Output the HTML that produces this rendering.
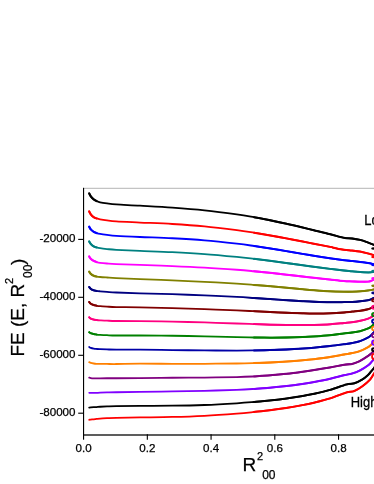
<!DOCTYPE html>
<html><head><meta charset="utf-8"><title>chart</title>
<style>
html,body{margin:0;padding:0;background:#fff;}
body{width:374px;height:484px;overflow:hidden;position:relative;font-family:"Liberation Sans",sans-serif;}
</style></head><body>
<svg width="374" height="484" viewBox="0 0 374 484" style="display:block;position:absolute;left:0;top:0;will-change:transform">
<rect x="0" y="0" width="374" height="484" fill="#ffffff"/>
<line x1="83.5" y1="188.3" x2="374" y2="188.3" stroke="#b4b4b4" stroke-width="1"/>
<g fill="none" stroke-linecap="round" stroke-linejoin="round" stroke-width="1.8">
<path d="M89.20,193.40 C89.47,193.89 90.05,195.35 90.80,196.35 C91.55,197.35 92.73,198.61 93.70,199.39 C94.67,200.17 95.53,200.56 96.60,201.04 C97.67,201.52 98.37,201.90 100.10,202.29 C101.83,202.68 104.30,203.04 107.00,203.39 C109.70,203.74 110.80,204.01 116.30,204.39 C121.80,204.77 130.67,205.14 140.00,205.69 C149.33,206.24 161.55,206.88 172.30,207.66 C183.05,208.45 193.75,209.27 204.50,210.39 C215.25,211.52 228.55,213.27 236.80,214.40 C245.05,215.53 248.45,216.22 254.00,217.19 C259.55,218.17 264.72,219.16 270.10,220.25 C275.48,221.34 280.92,222.51 286.30,223.72 C291.68,224.92 297.78,226.37 302.40,227.47 C307.02,228.56 309.38,229.16 314.00,230.28 C318.62,231.39 325.70,233.04 330.10,234.17 C334.50,235.29 337.70,236.33 340.40,237.00 C343.10,237.67 344.35,237.95 346.30,238.20 C348.25,238.45 349.80,238.22 352.10,238.50 C354.40,238.78 357.42,239.22 360.10,239.90 C362.78,240.58 365.88,241.77 368.20,242.60 C370.52,243.43 372.53,244.28 374.00,244.90 C375.47,245.52 376.50,246.07 377.00,246.30" stroke="#000000"/>
<path d="M89.20,193.40 C89.47,193.89 90.05,195.35 90.80,196.35 C91.55,197.35 92.73,198.61 93.70,199.39 C94.67,200.17 96.12,200.76 96.60,201.04" stroke="#000000" stroke-width="2.15"/>
<path d="M254.00,217.19 C256.68,217.70 264.72,219.16 270.10,220.25 C275.48,221.34 280.92,222.51 286.30,223.72 C291.68,224.92 297.78,226.37 302.40,227.47 C307.02,228.56 309.38,229.16 314.00,230.28 C318.62,231.39 325.70,233.04 330.10,234.17 C334.50,235.29 337.70,236.33 340.40,237.00 C343.10,237.67 344.35,237.95 346.30,238.20 C348.25,238.45 349.80,238.22 352.10,238.50 C354.40,238.78 357.42,239.22 360.10,239.90 C362.78,240.58 365.88,241.77 368.20,242.60 C370.52,243.43 372.53,244.28 374.00,244.90 C375.47,245.52 376.50,246.07 377.00,246.30" stroke="#000000" stroke-width="2.0"/>
<ellipse cx="374.0" cy="248.5" rx="1.95" ry="0.35" stroke="#000000"/>
<path d="M89.20,211.40 C89.47,211.89 90.05,213.41 90.80,214.37 C91.55,215.33 92.73,216.48 93.70,217.15 C94.67,217.83 95.53,218.05 96.60,218.42 C97.67,218.79 98.37,219.04 100.10,219.38 C101.83,219.72 104.30,220.11 107.00,220.45 C109.70,220.79 110.80,221.07 116.30,221.41 C121.80,221.76 130.67,222.11 140.00,222.54 C149.33,222.97 161.55,223.36 172.30,224.00 C183.05,224.64 193.75,225.36 204.50,226.38 C215.25,227.40 228.55,229.08 236.80,230.13 C245.05,231.19 248.45,231.82 254.00,232.70 C259.55,233.58 264.72,234.46 270.10,235.41 C275.48,236.36 280.92,237.37 286.30,238.38 C291.68,239.39 297.78,240.59 302.40,241.49 C307.02,242.38 309.38,242.86 314.00,243.76 C318.62,244.66 326.77,246.22 330.10,246.89 C333.43,247.56 332.28,247.42 334.00,247.80 C335.72,248.18 338.35,248.82 340.40,249.20 C342.45,249.58 344.35,249.87 346.30,250.10 C348.25,250.33 349.80,250.35 352.10,250.60 C354.40,250.85 357.42,251.12 360.10,251.60 C362.78,252.08 365.88,252.90 368.20,253.50 C370.52,254.10 372.53,254.77 374.00,255.20 C375.47,255.63 376.50,255.95 377.00,256.10" stroke="#ff0000"/>
<path d="M89.20,211.40 C89.47,211.89 90.05,213.41 90.80,214.37 C91.55,215.33 92.73,216.48 93.70,217.15 C94.67,217.83 96.12,218.21 96.60,218.42" stroke="#ff0000" stroke-width="2.15"/>
<path d="M254.00,232.70 C256.68,233.15 264.72,234.46 270.10,235.41 C275.48,236.36 280.92,237.37 286.30,238.38 C291.68,239.39 297.78,240.59 302.40,241.49 C307.02,242.38 309.38,242.86 314.00,243.76 C318.62,244.66 326.77,246.22 330.10,246.89 C333.43,247.56 332.28,247.42 334.00,247.80 C335.72,248.18 338.35,248.82 340.40,249.20 C342.45,249.58 344.35,249.87 346.30,250.10 C348.25,250.33 349.80,250.35 352.10,250.60 C354.40,250.85 357.42,251.12 360.10,251.60 C362.78,252.08 365.88,252.90 368.20,253.50 C370.52,254.10 372.53,254.77 374.00,255.20 C375.47,255.63 376.50,255.95 377.00,256.10" stroke="#ff0000" stroke-width="2.0"/>
<ellipse cx="374.0" cy="257.0" rx="1.95" ry="0.35" stroke="#ff0000"/>
<path d="M89.20,226.70 C89.47,227.15 90.05,228.54 90.80,229.39 C91.55,230.24 92.73,231.19 93.70,231.81 C94.67,232.43 95.53,232.74 96.60,233.10 C97.67,233.46 98.37,233.65 100.10,233.96 C101.83,234.26 104.30,234.59 107.00,234.91 C109.70,235.23 110.80,235.52 116.30,235.86 C121.80,236.21 130.67,236.60 140.00,236.99 C149.33,237.39 161.55,237.70 172.30,238.25 C183.05,238.80 193.75,239.39 204.50,240.28 C215.25,241.18 228.55,242.68 236.80,243.63 C245.05,244.58 248.45,245.16 254.00,245.97 C259.55,246.77 264.72,247.58 270.10,248.44 C275.48,249.30 280.92,250.22 286.30,251.13 C291.68,252.03 297.78,253.09 302.40,253.87 C307.02,254.65 309.38,255.07 314.00,255.81 C318.62,256.55 325.10,257.59 330.10,258.32 C335.10,259.05 340.33,259.75 344.00,260.20 C347.67,260.65 349.42,260.72 352.10,261.00 C354.78,261.28 357.42,261.55 360.10,261.90 C362.78,262.25 365.88,262.70 368.20,263.10 C370.52,263.50 372.53,264.00 374.00,264.30 C375.47,264.60 376.50,264.80 377.00,264.90" stroke="#0000ff"/>
<path d="M89.20,226.70 C89.47,227.15 90.05,228.54 90.80,229.39 C91.55,230.24 92.73,231.19 93.70,231.81 C94.67,232.43 96.12,232.88 96.60,233.10" stroke="#0000ff" stroke-width="2.15"/>
<path d="M254.00,245.97 C256.68,246.38 264.72,247.58 270.10,248.44 C275.48,249.30 280.92,250.22 286.30,251.13 C291.68,252.03 297.78,253.09 302.40,253.87 C307.02,254.65 309.38,255.07 314.00,255.81 C318.62,256.55 325.10,257.59 330.10,258.32 C335.10,259.05 340.33,259.75 344.00,260.20 C347.67,260.65 349.42,260.72 352.10,261.00 C354.78,261.28 357.42,261.55 360.10,261.90 C362.78,262.25 365.88,262.70 368.20,263.10 C370.52,263.50 372.53,264.00 374.00,264.30 C375.47,264.60 376.50,264.80 377.00,264.90" stroke="#0000ff" stroke-width="2.0"/>
<ellipse cx="374.0" cy="265.0" rx="1.95" ry="0.30" stroke="#0000ff"/>
<path d="M89.20,241.50 C89.47,241.92 90.05,243.20 90.80,244.01 C91.55,244.82 92.73,245.78 93.70,246.36 C94.67,246.94 95.53,247.15 96.60,247.47 C97.67,247.78 98.37,247.96 100.10,248.23 C101.83,248.49 104.30,248.78 107.00,249.06 C109.70,249.33 110.80,249.57 116.30,249.88 C121.80,250.19 130.67,250.53 140.00,250.91 C149.33,251.28 161.55,251.63 172.30,252.15 C183.05,252.67 193.75,253.24 204.50,254.03 C215.25,254.82 228.55,256.11 236.80,256.91 C245.05,257.71 248.45,258.18 254.00,258.84 C259.55,259.50 264.72,260.16 270.10,260.86 C275.48,261.55 280.92,262.29 286.30,263.02 C291.68,263.75 297.78,264.60 302.40,265.23 C307.02,265.86 309.38,266.20 314.00,266.81 C318.62,267.41 325.10,268.26 330.10,268.88 C335.10,269.49 340.33,270.10 344.00,270.50 C347.67,270.90 349.42,271.03 352.10,271.30 C354.78,271.57 357.42,271.92 360.10,272.10 C362.78,272.28 366.32,272.38 368.20,272.40 C370.08,272.42 370.43,272.28 371.40,272.20 C372.37,272.12 373.07,272.00 374.00,271.90 C374.93,271.80 376.50,271.65 377.00,271.60" stroke="#008080"/>
<path d="M89.20,241.50 C89.47,241.92 90.05,243.20 90.80,244.01 C91.55,244.82 92.73,245.78 93.70,246.36 C94.67,246.94 96.12,247.28 96.60,247.47" stroke="#008080" stroke-width="2.15"/>
<path d="M254.00,258.84 C256.68,259.18 264.72,260.16 270.10,260.86 C275.48,261.55 280.92,262.29 286.30,263.02 C291.68,263.75 297.78,264.60 302.40,265.23 C307.02,265.86 309.38,266.20 314.00,266.81 C318.62,267.41 325.10,268.26 330.10,268.88 C335.10,269.49 340.33,270.10 344.00,270.50 C347.67,270.90 349.42,271.03 352.10,271.30 C354.78,271.57 357.42,271.92 360.10,272.10 C362.78,272.28 366.32,272.38 368.20,272.40 C370.08,272.42 370.43,272.28 371.40,272.20 C372.37,272.12 373.07,272.00 374.00,271.90 C374.93,271.80 376.50,271.65 377.00,271.60" stroke="#008080" stroke-width="2.0"/>
<ellipse cx="374.0" cy="271.0" rx="1.95" ry="0.30" stroke="#008080"/>
<path d="M89.20,256.50 C89.47,256.89 90.05,258.09 90.80,258.82 C91.55,259.56 92.73,260.37 93.70,260.91 C94.67,261.44 95.53,261.72 96.60,262.03 C97.67,262.35 98.37,262.55 100.10,262.80 C101.83,263.04 104.30,263.29 107.00,263.51 C109.70,263.73 110.80,263.90 116.30,264.13 C121.80,264.36 130.67,264.59 140.00,264.91 C149.33,265.22 161.55,265.60 172.30,266.05 C183.05,266.49 193.75,266.96 204.50,267.57 C215.25,268.19 228.55,269.14 236.80,269.76 C245.05,270.37 248.45,270.73 254.00,271.25 C259.55,271.76 264.72,272.29 270.10,272.85 C275.48,273.42 280.92,274.03 286.30,274.64 C291.68,275.24 297.78,275.97 302.40,276.51 C307.02,277.04 309.38,277.34 314.00,277.86 C318.62,278.37 325.10,279.07 330.10,279.61 C335.10,280.16 340.33,280.80 344.00,281.10 C347.67,281.40 349.42,281.30 352.10,281.40 C354.78,281.50 357.42,281.64 360.10,281.68 C362.78,281.71 366.18,281.84 368.20,281.63 C370.22,281.42 371.07,280.82 372.20,280.40 C373.33,279.98 374.53,279.32 375.00,279.10" stroke="#ff00ff"/>
<path d="M89.20,256.50 C89.47,256.89 90.05,258.09 90.80,258.82 C91.55,259.56 92.73,260.37 93.70,260.91 C94.67,261.44 96.12,261.84 96.60,262.03" stroke="#ff00ff" stroke-width="2.15"/>
<path d="M254.00,271.25 C256.68,271.52 264.72,272.29 270.10,272.85 C275.48,273.42 280.92,274.03 286.30,274.64 C291.68,275.24 297.78,275.97 302.40,276.51 C307.02,277.04 309.38,277.34 314.00,277.86 C318.62,278.37 325.10,279.07 330.10,279.61 C335.10,280.16 340.33,280.80 344.00,281.10 C347.67,281.40 349.42,281.30 352.10,281.40 C354.78,281.50 357.42,281.64 360.10,281.68 C362.78,281.71 366.18,281.84 368.20,281.63 C370.22,281.42 371.07,280.82 372.20,280.40 C373.33,279.98 374.53,279.32 375.00,279.10" stroke="#ff00ff" stroke-width="2.0"/>
<ellipse cx="374.0" cy="278.3" rx="1.95" ry="0.35" stroke="#ff00ff"/>
<path d="M89.20,271.70 C89.47,272.06 90.05,273.17 90.80,273.85 C91.55,274.54 92.73,275.34 93.70,275.79 C94.67,276.24 95.53,276.34 96.60,276.54 C97.67,276.75 98.37,276.86 100.10,277.01 C101.83,277.17 104.30,277.32 107.00,277.49 C109.70,277.66 110.80,277.80 116.30,278.06 C121.80,278.32 130.67,278.65 140.00,279.04 C149.33,279.43 161.55,279.93 172.30,280.39 C183.05,280.86 193.75,281.28 204.50,281.82 C215.25,282.36 228.55,283.13 236.80,283.64 C245.05,284.15 248.45,284.45 254.00,284.88 C259.55,285.31 264.72,285.75 270.10,286.22 C275.48,286.69 280.92,287.20 286.30,287.70 C291.68,288.20 297.78,288.78 302.40,289.20 C307.02,289.62 309.38,289.85 314.00,290.20 C318.62,290.55 325.10,291.04 330.10,291.29 C335.10,291.54 340.33,291.63 344.00,291.70 C347.67,291.77 349.42,291.76 352.10,291.70 C354.78,291.64 357.42,291.53 360.10,291.33 C362.78,291.12 365.88,290.80 368.20,290.48 C370.52,290.16 372.53,289.73 374.00,289.40 C375.47,289.07 376.50,288.65 377.00,288.50" stroke="#808000"/>
<path d="M89.20,271.70 C89.47,272.06 90.05,273.17 90.80,273.85 C91.55,274.54 92.73,275.34 93.70,275.79 C94.67,276.24 96.12,276.42 96.60,276.54" stroke="#808000" stroke-width="2.12"/>
<path d="M254.00,284.88 C256.68,285.10 264.72,285.75 270.10,286.22 C275.48,286.69 280.92,287.20 286.30,287.70 C291.68,288.20 297.78,288.78 302.40,289.20 C307.02,289.62 309.38,289.85 314.00,290.20 C318.62,290.55 325.10,291.04 330.10,291.29 C335.10,291.54 340.33,291.63 344.00,291.70 C347.67,291.77 349.42,291.76 352.10,291.70 C354.78,291.64 357.42,291.53 360.10,291.33 C362.78,291.12 365.88,290.80 368.20,290.48 C370.52,290.16 372.53,289.73 374.00,289.40 C375.47,289.07 376.50,288.65 377.00,288.50" stroke="#808000" stroke-width="2.0"/>
<ellipse cx="374.0" cy="285.8" rx="1.95" ry="0.45" stroke="#808000"/>
<path d="M89.20,287.00 C89.47,287.31 90.05,288.32 90.80,288.87 C91.55,289.43 92.73,290.01 93.70,290.35 C94.67,290.69 95.53,290.76 96.60,290.92 C97.67,291.08 98.37,291.14 100.10,291.30 C101.83,291.45 104.30,291.65 107.00,291.85 C109.70,292.04 110.80,292.23 116.30,292.48 C121.80,292.72 130.67,293.01 140.00,293.30 C149.33,293.59 161.55,293.88 172.30,294.22 C183.05,294.57 193.75,294.90 204.50,295.36 C215.25,295.81 228.55,296.51 236.80,296.96 C245.05,297.40 248.45,297.66 254.00,298.01 C259.55,298.36 264.72,298.72 270.10,299.08 C275.48,299.44 280.92,299.82 286.30,300.17 C291.68,300.52 297.78,300.90 302.40,301.16 C307.02,301.42 309.38,301.56 314.00,301.74 C318.62,301.91 325.10,302.14 330.10,302.20 C335.10,302.26 340.33,302.15 344.00,302.10 C347.67,302.05 349.42,302.04 352.10,301.90 C354.78,301.76 357.42,301.54 360.10,301.25 C362.78,300.96 366.32,300.52 368.20,300.16 C370.08,299.79 370.43,299.45 371.40,299.08 C372.37,298.70 373.07,298.40 374.00,297.90 C374.93,297.40 376.50,296.40 377.00,296.10" stroke="#000080"/>
<path d="M89.20,287.00 C89.47,287.31 90.05,288.32 90.80,288.87 C91.55,289.43 92.73,290.01 93.70,290.35 C94.67,290.69 96.12,290.82 96.60,290.92" stroke="#000080" stroke-width="2.08"/>
<path d="M254.00,298.01 C256.68,298.19 264.72,298.72 270.10,299.08 C275.48,299.44 280.92,299.82 286.30,300.17 C291.68,300.52 297.78,300.90 302.40,301.16 C307.02,301.42 309.38,301.56 314.00,301.74 C318.62,301.91 325.10,302.14 330.10,302.20 C335.10,302.26 340.33,302.15 344.00,302.10 C347.67,302.05 349.42,302.04 352.10,301.90 C354.78,301.76 357.42,301.54 360.10,301.25 C362.78,300.96 366.32,300.52 368.20,300.16 C370.08,299.79 370.43,299.45 371.40,299.08 C372.37,298.70 373.07,298.40 374.00,297.90 C374.93,297.40 376.50,296.40 377.00,296.10" stroke="#000080" stroke-width="2.0"/>
<ellipse cx="374.0" cy="293.0" rx="1.95" ry="0.55" stroke="#000080"/>
<path d="M89.20,301.99 C89.47,302.28 90.05,303.23 90.80,303.74 C91.55,304.25 92.73,304.71 93.70,305.04 C94.67,305.37 95.53,305.52 96.60,305.72 C97.67,305.91 98.37,306.05 100.10,306.21 C101.83,306.36 104.30,306.50 107.00,306.64 C109.70,306.78 110.80,306.93 116.30,307.04 C121.80,307.15 130.67,307.09 140.00,307.28 C149.33,307.46 161.55,307.83 172.30,308.15 C183.05,308.46 193.75,308.79 204.50,309.17 C215.25,309.55 228.55,310.09 236.80,310.43 C245.05,310.77 248.45,310.96 254.00,311.22 C259.55,311.48 264.72,311.74 270.10,312.00 C275.48,312.25 280.92,312.52 286.30,312.74 C291.68,312.96 297.78,313.19 302.40,313.32 C307.02,313.45 309.38,313.53 314.00,313.54 C318.62,313.54 325.10,313.53 330.10,313.35 C335.10,313.18 340.33,312.79 344.00,312.50 C347.67,312.21 349.42,311.88 352.10,311.60 C354.78,311.32 357.42,311.20 360.10,310.81 C362.78,310.41 366.32,309.68 368.20,309.21 C370.08,308.74 370.43,308.44 371.40,307.97 C372.37,307.50 373.07,307.10 374.00,306.40 C374.93,305.71 376.50,304.23 377.00,303.80" stroke="#800000"/>
<path d="M89.20,301.99 C89.47,302.28 90.05,303.23 90.80,303.74 C91.55,304.25 92.73,304.71 93.70,305.04 C94.67,305.37 96.12,305.60 96.60,305.72" stroke="#800000" stroke-width="2.05"/>
<path d="M254.00,311.22 C256.68,311.35 264.72,311.74 270.10,312.00 C275.48,312.25 280.92,312.52 286.30,312.74 C291.68,312.96 297.78,313.19 302.40,313.32 C307.02,313.45 309.38,313.53 314.00,313.54 C318.62,313.54 325.10,313.53 330.10,313.35 C335.10,313.18 340.33,312.79 344.00,312.50 C347.67,312.21 349.42,311.88 352.10,311.60 C354.78,311.32 357.42,311.20 360.10,310.81 C362.78,310.41 366.32,309.68 368.20,309.21 C370.08,308.74 370.43,308.44 371.40,307.97 C372.37,307.50 373.07,307.10 374.00,306.40 C374.93,305.71 376.50,304.23 377.00,303.80" stroke="#800000" stroke-width="2.0"/>
<ellipse cx="374.0" cy="300.2" rx="1.95" ry="1.10" stroke="#800000"/>
<path d="M89.20,317.30 C89.47,317.52 90.05,318.28 90.80,318.66 C91.55,319.04 92.73,319.37 93.70,319.59 C94.67,319.81 95.53,319.87 96.60,319.98 C97.67,320.10 98.37,320.16 100.10,320.28 C101.83,320.39 104.30,320.56 107.00,320.67 C109.70,320.79 110.80,320.92 116.30,320.99 C121.80,321.06 130.67,321.01 140.00,321.12 C149.33,321.22 161.55,321.42 172.30,321.64 C183.05,321.86 193.75,322.13 204.50,322.44 C215.25,322.75 228.55,323.23 236.80,323.51 C245.05,323.79 248.45,323.93 254.00,324.12 C259.55,324.31 264.72,324.48 270.10,324.63 C275.48,324.78 280.92,324.92 286.30,325.00 C291.68,325.08 297.78,325.12 302.40,325.11 C307.02,325.11 309.38,325.10 314.00,324.96 C318.62,324.82 325.10,324.61 330.10,324.29 C335.10,323.96 340.33,323.35 344.00,323.00 C347.67,322.65 349.42,322.56 352.10,322.20 C354.78,321.84 357.42,321.43 360.10,320.83 C362.78,320.23 366.28,319.23 368.20,318.59 C370.12,317.94 370.63,317.56 371.60,316.98 C372.57,316.40 373.10,315.95 374.00,315.10 C374.90,314.25 376.50,312.43 377.00,311.90" stroke="#ff0080"/>
<path d="M89.20,317.30 C89.47,317.52 90.05,318.28 90.80,318.66 C91.55,319.04 92.73,319.37 93.70,319.59 C94.67,319.81 96.12,319.92 96.60,319.98" stroke="#ff0080" stroke-width="1.98"/>
<path d="M254.00,324.12 C256.68,324.21 264.72,324.48 270.10,324.63 C275.48,324.78 280.92,324.92 286.30,325.00 C291.68,325.08 297.78,325.12 302.40,325.11 C307.02,325.11 309.38,325.10 314.00,324.96 C318.62,324.82 325.10,324.61 330.10,324.29 C335.10,323.96 340.33,323.35 344.00,323.00 C347.67,322.65 349.42,322.56 352.10,322.20 C354.78,321.84 357.42,321.43 360.10,320.83 C362.78,320.23 366.28,319.23 368.20,318.59 C370.12,317.94 370.63,317.56 371.60,316.98 C372.57,316.40 373.10,315.95 374.00,315.10 C374.90,314.25 376.50,312.43 377.00,311.90" stroke="#ff0080" stroke-width="2.0"/>
<ellipse cx="374.0" cy="307.2" rx="1.95" ry="1.60" stroke="#ff0080"/>
<path d="M89.20,332.19 C89.47,332.37 90.05,332.96 90.80,333.27 C91.55,333.57 92.73,333.81 93.70,334.02 C94.67,334.23 95.53,334.39 96.60,334.52 C97.67,334.65 98.37,334.70 100.10,334.81 C101.83,334.93 104.30,335.08 107.00,335.20 C109.70,335.31 110.80,335.46 116.30,335.50 C121.80,335.55 130.67,335.45 140.00,335.49 C149.33,335.53 161.55,335.59 172.30,335.73 C183.05,335.87 193.75,336.10 204.50,336.33 C215.25,336.56 228.55,336.94 236.80,337.13 C245.05,337.33 248.45,337.40 254.00,337.48 C259.55,337.56 264.72,337.62 270.10,337.63 C275.48,337.64 280.92,337.62 286.30,337.52 C291.68,337.42 297.78,337.23 302.40,337.05 C307.02,336.87 309.38,336.76 314.00,336.44 C318.62,336.12 325.10,335.65 330.10,335.15 C335.10,334.64 340.33,333.84 344.00,333.40 C347.67,332.96 349.42,332.87 352.10,332.50 C354.78,332.13 357.42,331.86 360.10,331.18 C362.78,330.50 366.25,329.27 368.20,328.44 C370.15,327.61 370.83,326.93 371.80,326.19 C372.77,325.45 373.13,325.01 374.00,324.00 C374.87,322.99 376.50,320.75 377.00,320.10" stroke="#008000"/>
<path d="M89.20,332.19 C89.47,332.37 90.05,332.96 90.80,333.27 C91.55,333.57 92.73,333.81 93.70,334.02 C94.67,334.23 96.12,334.43 96.60,334.52" stroke="#008000" stroke-width="1.96"/>
<path d="M254.00,337.48 C256.68,337.50 264.72,337.62 270.10,337.63 C275.48,337.64 280.92,337.62 286.30,337.52 C291.68,337.42 297.78,337.23 302.40,337.05 C307.02,336.87 309.38,336.76 314.00,336.44 C318.62,336.12 325.10,335.65 330.10,335.15 C335.10,334.64 340.33,333.84 344.00,333.40 C347.67,332.96 349.42,332.87 352.10,332.50 C354.78,332.13 357.42,331.86 360.10,331.18 C362.78,330.50 366.25,329.27 368.20,328.44 C370.15,327.61 370.83,326.93 371.80,326.19 C372.77,325.45 373.13,325.01 374.00,324.00 C374.87,322.99 376.50,320.75 377.00,320.10" stroke="#008000" stroke-width="2.0"/>
<ellipse cx="374.0" cy="314.5" rx="1.95" ry="1.65" stroke="#008000"/>
<path d="M89.20,346.99 C89.47,347.14 90.05,347.63 90.80,347.91 C91.55,348.18 92.73,348.44 93.70,348.62 C94.67,348.80 95.53,348.88 96.60,348.98 C97.67,349.07 98.37,349.10 100.10,349.18 C101.83,349.26 104.30,349.36 107.00,349.45 C109.70,349.53 110.80,349.64 116.30,349.68 C121.80,349.71 130.67,349.60 140.00,349.66 C149.33,349.72 161.55,349.91 172.30,350.04 C183.05,350.16 193.75,350.33 204.50,350.43 C215.25,350.52 228.55,350.58 236.80,350.59 C245.05,350.59 248.45,350.53 254.00,350.45 C259.55,350.37 264.72,350.27 270.10,350.11 C275.48,349.95 280.92,349.75 286.30,349.49 C291.68,349.23 297.78,348.86 302.40,348.55 C307.02,348.24 309.38,348.06 314.00,347.63 C318.62,347.21 325.10,346.57 330.10,346.00 C335.10,345.43 340.33,344.70 344.00,344.20 C347.67,343.70 349.42,343.52 352.10,343.00 C354.78,342.48 357.42,342.01 360.10,341.08 C362.78,340.16 366.25,338.52 368.20,337.44 C370.15,336.36 370.83,335.48 371.80,334.59 C372.77,333.70 373.13,333.18 374.00,332.10 C374.87,331.02 376.50,328.77 377.00,328.10" stroke="#0000a8"/>
<path d="M254.00,350.45 C256.68,350.40 264.72,350.27 270.10,350.11 C275.48,349.95 280.92,349.75 286.30,349.49 C291.68,349.23 297.78,348.86 302.40,348.55 C307.02,348.24 309.38,348.06 314.00,347.63 C318.62,347.21 325.10,346.57 330.10,346.00 C335.10,345.43 340.33,344.70 344.00,344.20 C347.67,343.70 349.42,343.52 352.10,343.00 C354.78,342.48 357.42,342.01 360.10,341.08 C362.78,340.16 366.25,338.52 368.20,337.44 C370.15,336.36 370.83,335.48 371.80,334.59 C372.77,333.70 373.13,333.18 374.00,332.10 C374.87,331.02 376.50,328.77 377.00,328.10" stroke="#0000a8" stroke-width="2.0"/>
<ellipse cx="374.0" cy="321.2" rx="1.95" ry="1.70" stroke="#0000a8"/>
<path d="M89.20,362.09 C89.47,362.23 90.05,362.70 90.80,362.93 C91.55,363.17 92.73,363.36 93.70,363.50 C94.67,363.65 95.53,363.73 96.60,363.79 C97.67,363.86 98.37,363.88 100.10,363.91 C101.83,363.93 104.30,363.93 107.00,363.95 C109.70,363.97 110.80,364.06 116.30,364.02 C121.80,363.98 130.67,363.75 140.00,363.72 C149.33,363.68 161.55,363.77 172.30,363.79 C183.05,363.80 193.75,363.84 204.50,363.79 C215.25,363.75 228.55,363.62 236.80,363.51 C245.05,363.39 248.45,363.28 254.00,363.12 C259.55,362.95 264.72,362.77 270.10,362.52 C275.48,362.27 280.92,361.98 286.30,361.62 C291.68,361.26 297.78,360.76 302.40,360.35 C307.02,359.94 309.38,359.71 314.00,359.15 C318.62,358.59 325.10,357.79 330.10,357.01 C335.10,356.24 340.33,355.15 344.00,354.50 C347.67,353.85 349.42,353.68 352.10,353.10 C354.78,352.52 357.42,352.02 360.10,351.01 C362.78,349.99 366.32,348.11 368.20,347.02 C370.08,345.92 370.43,345.34 371.40,344.45 C372.37,343.57 373.07,342.88 374.00,341.70 C374.93,340.52 376.50,338.12 377.00,337.40" stroke="#ff8000"/>
<path d="M254.00,363.12 C256.68,363.02 264.72,362.77 270.10,362.52 C275.48,362.27 280.92,361.98 286.30,361.62 C291.68,361.26 297.78,360.76 302.40,360.35 C307.02,359.94 309.38,359.71 314.00,359.15 C318.62,358.59 325.10,357.79 330.10,357.01 C335.10,356.24 340.33,355.15 344.00,354.50 C347.67,353.85 349.42,353.68 352.10,353.10 C354.78,352.52 357.42,352.02 360.10,351.01 C362.78,349.99 366.32,348.11 368.20,347.02 C370.08,345.92 370.43,345.34 371.40,344.45 C372.37,343.57 373.07,342.88 374.00,341.70 C374.93,340.52 376.50,338.12 377.00,337.40" stroke="#ff8000" stroke-width="2.0"/>
<ellipse cx="374.0" cy="328.5" rx="1.95" ry="1.80" stroke="#ff8000"/>
<path d="M89.20,377.60 C89.47,377.68 90.05,377.96 90.80,378.08 C91.55,378.21 92.73,378.31 93.70,378.36 C94.67,378.40 95.53,378.34 96.60,378.34 C97.67,378.34 98.37,378.35 100.10,378.34 C101.83,378.32 104.30,378.27 107.00,378.26 C109.70,378.24 110.80,378.29 116.30,378.26 C121.80,378.24 130.67,378.21 140.00,378.13 C149.33,378.04 161.55,377.85 172.30,377.76 C183.05,377.67 193.75,377.69 204.50,377.58 C215.25,377.46 228.55,377.29 236.80,377.09 C245.05,376.90 248.45,376.70 254.00,376.41 C259.55,376.12 264.72,375.78 270.10,375.35 C275.48,374.92 280.92,374.40 286.30,373.81 C291.68,373.22 297.78,372.41 302.40,371.79 C307.02,371.16 309.38,370.79 314.00,370.06 C318.62,369.33 325.10,368.26 330.10,367.39 C335.10,366.51 340.33,365.38 344.00,364.80 C347.67,364.22 350.10,364.27 352.10,363.90 C354.10,363.53 354.67,363.10 356.00,362.60 C357.33,362.10 358.07,362.04 360.10,360.90 C362.13,359.77 366.32,357.07 368.20,355.81 C370.08,354.55 370.43,354.22 371.40,353.37 C372.37,352.52 373.07,351.89 374.00,350.70 C374.93,349.50 376.50,346.95 377.00,346.20" stroke="#800080"/>
<path d="M254.00,376.41 C256.68,376.23 264.72,375.78 270.10,375.35 C275.48,374.92 280.92,374.40 286.30,373.81 C291.68,373.22 297.78,372.41 302.40,371.79 C307.02,371.16 309.38,370.79 314.00,370.06 C318.62,369.33 325.10,368.26 330.10,367.39 C335.10,366.51 340.33,365.38 344.00,364.80 C347.67,364.22 350.10,364.27 352.10,363.90 C354.10,363.53 354.67,363.10 356.00,362.60 C357.33,362.10 358.07,362.04 360.10,360.90 C362.13,359.77 366.32,357.07 368.20,355.81 C370.08,354.55 370.43,354.22 371.40,353.37 C372.37,352.52 373.07,351.89 374.00,350.70 C374.93,349.50 376.50,346.95 377.00,346.20" stroke="#800080" stroke-width="2.0"/>
<ellipse cx="374.0" cy="335.5" rx="1.95" ry="1.90" stroke="#800080"/>
<path d="M89.20,392.80 C89.47,392.82 90.05,392.89 90.80,392.91 C91.55,392.94 92.73,392.95 93.70,392.94 C94.67,392.93 95.53,392.90 96.60,392.85 C97.67,392.80 98.37,392.72 100.10,392.65 C101.83,392.58 104.30,392.51 107.00,392.44 C109.70,392.37 110.80,392.33 116.30,392.24 C121.80,392.15 130.67,392.05 140.00,391.92 C149.33,391.78 161.55,391.59 172.30,391.41 C183.05,391.23 193.75,391.10 204.50,390.83 C215.25,390.57 228.55,390.14 236.80,389.82 C245.05,389.51 248.45,389.27 254.00,388.92 C259.55,388.57 264.72,388.20 270.10,387.72 C275.48,387.25 280.92,386.71 286.30,386.08 C291.68,385.45 297.78,384.61 302.40,383.94 C307.02,383.26 309.38,382.88 314.00,382.03 C318.62,381.18 325.10,379.96 330.10,378.82 C335.10,377.68 340.33,376.09 344.00,375.20 C347.67,374.31 349.42,374.31 352.10,373.50 C354.78,372.69 357.42,371.73 360.10,370.35 C362.78,368.98 366.18,366.80 368.20,365.26 C370.22,363.72 371.23,362.14 372.20,361.10 C373.17,360.06 373.20,360.08 374.00,359.00 C374.80,357.92 376.50,355.33 377.00,354.60" stroke="#8000ff"/>
<path d="M254.00,388.92 C256.68,388.72 264.72,388.20 270.10,387.72 C275.48,387.25 280.92,386.71 286.30,386.08 C291.68,385.45 297.78,384.61 302.40,383.94 C307.02,383.26 309.38,382.88 314.00,382.03 C318.62,381.18 325.10,379.96 330.10,378.82 C335.10,377.68 340.33,376.09 344.00,375.20 C347.67,374.31 349.42,374.31 352.10,373.50 C354.78,372.69 357.42,371.73 360.10,370.35 C362.78,368.98 366.18,366.80 368.20,365.26 C370.22,363.72 371.23,362.14 372.20,361.10 C373.17,360.06 373.20,360.08 374.00,359.00 C374.80,357.92 376.50,355.33 377.00,354.60" stroke="#8000ff" stroke-width="2.0"/>
<ellipse cx="374.0" cy="342.6" rx="1.95" ry="2.30" stroke="#8000ff"/>
<path d="M89.20,407.60 C89.47,407.57 90.05,407.50 90.80,407.44 C91.55,407.37 92.73,407.27 93.70,407.20 C94.67,407.13 95.53,407.11 96.60,407.04 C97.67,406.96 98.37,406.85 100.10,406.74 C101.83,406.64 104.30,406.52 107.00,406.40 C109.70,406.28 110.80,406.14 116.30,406.05 C121.80,405.95 130.67,405.88 140.00,405.82 C149.33,405.77 161.55,405.86 172.30,405.72 C183.05,405.58 193.75,405.38 204.50,404.98 C215.25,404.58 228.55,403.81 236.80,403.31 C245.05,402.82 248.45,402.48 254.00,402.00 C259.55,401.53 264.72,401.04 270.10,400.46 C275.48,399.88 280.92,399.25 286.30,398.52 C291.68,397.78 297.78,396.83 302.40,396.05 C307.02,395.27 309.38,394.85 314.00,393.83 C318.62,392.80 324.72,391.45 330.10,389.89 C335.48,388.34 342.27,385.60 346.30,384.50 C350.33,383.40 351.62,384.14 354.30,383.30 C356.98,382.46 360.08,380.85 362.40,379.44 C364.72,378.03 366.85,376.05 368.20,374.84 C369.55,373.63 369.53,373.34 370.50,372.20 C371.47,371.06 372.92,369.38 374.00,368.00 C375.08,366.62 376.50,364.58 377.00,363.90" stroke="#000000"/>
<path d="M254.00,402.00 C256.68,401.75 264.72,401.04 270.10,400.46 C275.48,399.88 280.92,399.25 286.30,398.52 C291.68,397.78 297.78,396.83 302.40,396.05 C307.02,395.27 309.38,394.85 314.00,393.83 C318.62,392.80 324.72,391.45 330.10,389.89 C335.48,388.34 342.27,385.60 346.30,384.50 C350.33,383.40 351.62,384.14 354.30,383.30 C356.98,382.46 360.08,380.85 362.40,379.44 C364.72,378.03 366.85,376.05 368.20,374.84 C369.55,373.63 369.53,373.34 370.50,372.20 C371.47,371.06 372.92,369.38 374.00,368.00 C375.08,366.62 376.50,364.58 377.00,363.90" stroke="#000000" stroke-width="2.0"/>
<ellipse cx="374.0" cy="349.7" rx="1.95" ry="1.50" stroke="#000000"/>
<path d="M89.20,419.80 C89.47,419.76 90.05,419.62 90.80,419.54 C91.55,419.47 92.73,419.42 93.70,419.32 C94.67,419.23 95.53,419.09 96.60,418.97 C97.67,418.84 98.37,418.70 100.10,418.58 C101.83,418.45 104.30,418.34 107.00,418.22 C109.70,418.11 110.80,418.00 116.30,417.87 C121.80,417.74 130.67,417.60 140.00,417.45 C149.33,417.30 161.55,417.25 172.30,416.97 C183.05,416.70 193.75,416.34 204.50,415.78 C215.25,415.21 228.55,414.22 236.80,413.58 C245.05,412.95 248.45,412.54 254.00,411.97 C259.55,411.40 264.72,410.82 270.10,410.14 C275.48,409.46 280.92,408.73 286.30,407.89 C291.68,407.05 297.78,405.98 302.40,405.11 C307.02,404.24 309.38,403.78 314.00,402.66 C318.62,401.54 324.72,400.09 330.10,398.40 C335.48,396.70 342.27,393.73 346.30,392.50 C350.33,391.27 351.62,392.05 354.30,391.00 C356.98,389.95 359.82,388.07 362.40,386.22 C364.98,384.37 367.87,382.02 369.80,379.92 C371.73,377.82 372.80,375.45 374.00,373.60 C375.20,371.75 376.50,369.60 377.00,368.80" stroke="#ff0000"/>
<path d="M254.00,411.97 C256.68,411.66 264.72,410.82 270.10,410.14 C275.48,409.46 280.92,408.73 286.30,407.89 C291.68,407.05 297.78,405.98 302.40,405.11 C307.02,404.24 309.38,403.78 314.00,402.66 C318.62,401.54 324.72,400.09 330.10,398.40 C335.48,396.70 342.27,393.73 346.30,392.50 C350.33,391.27 351.62,392.05 354.30,391.00 C356.98,389.95 359.82,388.07 362.40,386.22 C364.98,384.37 367.87,382.02 369.80,379.92 C371.73,377.82 372.80,375.45 374.00,373.60 C375.20,371.75 376.50,369.60 377.00,368.80" stroke="#ff0000" stroke-width="2.0"/>
<ellipse cx="374.0" cy="356.5" rx="1.95" ry="2.60" stroke="#ff0000"/>
</g>
<rect x="83" y="434.05" width="291" height="1.9" fill="#555555"/>
<g stroke="#000" stroke-width="1.1" fill="none">
<line x1="83.55" y1="187.8" x2="83.55" y2="439.7" stroke-width="1.15"/>
<line x1="78.2" y1="239.4" x2="83.5" y2="239.4"/>
<line x1="78.2" y1="297.3" x2="83.5" y2="297.3"/>
<line x1="78.2" y1="355.3" x2="83.5" y2="355.3"/>
<line x1="78.2" y1="413.2" x2="83.5" y2="413.2"/>
<line x1="147.33" y1="434.2" x2="147.33" y2="439.7"/>
<line x1="211.07" y1="434.2" x2="211.07" y2="439.7"/>
<line x1="274.80" y1="434.2" x2="274.80" y2="439.7"/>
<line x1="338.55" y1="434.2" x2="338.55" y2="439.7"/>
</g>
<g font-family="'Liberation Sans', sans-serif" fill="#000" stroke="#000" stroke-width="0.25">
<text x="75.5" y="242.3" font-size="11.6" text-anchor="end">-20000</text>
<text x="75.5" y="300.2" font-size="11.6" text-anchor="end">-40000</text>
<text x="75.5" y="357.9" font-size="11.6" text-anchor="end">-60000</text>
<text x="75.5" y="416.2" font-size="11.6" text-anchor="end">-80000</text>
<text x="83.6" y="451.9" font-size="11.6" text-anchor="middle">0.0</text>
<text x="147.3" y="451.9" font-size="11.6" text-anchor="middle">0.2</text>
<text x="211.1" y="451.9" font-size="11.6" text-anchor="middle">0.4</text>
<text x="274.8" y="451.9" font-size="11.6" text-anchor="middle">0.6</text>
<text x="338.6" y="451.9" font-size="11.6" text-anchor="middle">0.8</text>
<text x="242.5" y="470.6" font-size="19">R</text>
<text x="257.1" y="460.4" font-size="11">2</text>
<text x="262.2" y="478.6" font-size="12">00</text>
<g transform="translate(24.0,356.6) rotate(-90)">
<text x="0" y="0" font-size="19">FE (E, R</text>
<text x="72.7" y="-10.6" font-size="11">2</text>
<text x="78.6" y="8.2" font-size="12">00</text>
<text x="91.5" y="0" font-size="19">)</text>
</g>
<text transform="translate(364.2,224.9) scale(1,1.1)" font-size="13">Low</text>
<text transform="translate(350.65,407.1) scale(1,1.1)" font-size="13">High</text>
</g>
</svg>
</body></html>
